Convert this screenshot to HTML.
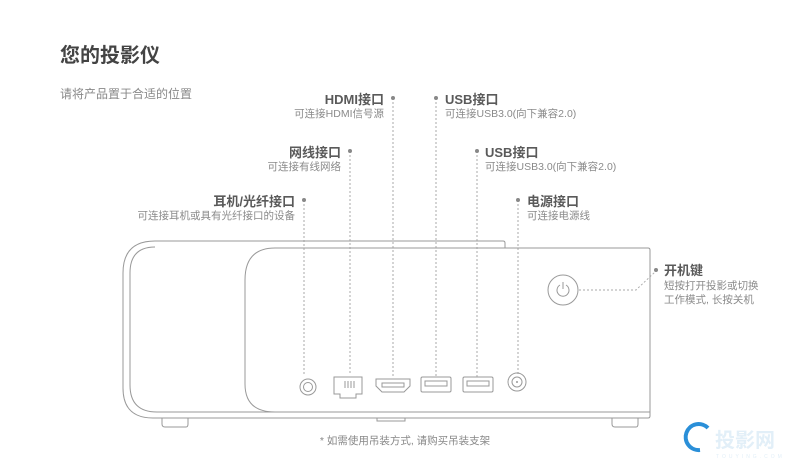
<!DOCTYPE html>
<html><head><meta charset="utf-8"><style>
html,body{margin:0;padding:0;background:#fff;}
svg{display:block;}
text{font-family:"Liberation Sans","Noto Sans CJK SC",sans-serif;}
.t{font-size:13px;font-weight:bold;fill:#5a5a5a;}
.s{font-size:10.5px;fill:#8a8a8a;}
.d{stroke:#aaa;stroke-width:1;stroke-dasharray:2,2;fill:none;}
.l{stroke:#999;stroke-width:1;fill:none;}
</style></head><body>
<svg width="800" height="470" viewBox="0 0 800 470">
<text x="60" y="62" style="font-size:20px;font-weight:bold;fill:#444">您的投影仪</text>
<text x="60" y="98" style="font-size:12px;fill:#888">请将产品置于合适的位置</text>

<text class="t" x="384" y="104" text-anchor="end">HDMI接口</text>
<text class="s" x="384" y="117" text-anchor="end">可连接HDMI信号源</text>
<text class="t" x="445" y="104">USB接口</text>
<text class="s" x="445" y="117">可连接USB3.0(向下兼容2.0)</text>
<text class="t" x="341" y="157" text-anchor="end">网线接口</text>
<text class="s" x="341" y="170" text-anchor="end">可连接有线网络</text>
<text class="t" x="485" y="157">USB接口</text>
<text class="s" x="485" y="170">可连接USB3.0(向下兼容2.0)</text>
<text class="t" x="295" y="206" text-anchor="end">耳机/光纤接口</text>
<text class="s" x="295" y="219" text-anchor="end">可连接耳机或具有光纤接口的设备</text>
<text class="t" x="527" y="206">电源接口</text>
<text class="s" x="527" y="219">可连接电源线</text>
<text class="t" x="664" y="275">开机键</text>
<text class="s" x="664" y="289">短按打开投影或切换</text>
<text class="s" x="664" y="303">工作模式, 长按关机</text>

<g fill="#888">
<circle cx="393" cy="98" r="2"/><circle cx="436" cy="98" r="2"/>
<circle cx="350" cy="151" r="2"/><circle cx="477" cy="151" r="2"/>
<circle cx="304" cy="200" r="2"/><circle cx="518" cy="200" r="2"/>
<circle cx="656" cy="270" r="2"/>
</g>
<path class="d" d="M393 102V377M436 102V377M350 155V375M477 155V377M304 204V376M518 204V374M579 290H636L655 272"/>

<path class="l" d="M505 248V243Q505 241 503 241H155Q123 241 123 273V388Q123 418 153 418H648Q650 418 650 416V250Q650 248 648 248H275"/>
<path class="l" d="M155 247Q130 247 130 273V385Q130 412 157 412H650"/>
<path class="l" d="M275 248Q245 248 245 280V384Q245 412 275 412"/>
<path class="l" d="M162 418V424Q162 427 165 427H186Q188 427 188 424V418M377 418V421H405V418M612 418V424Q612 427 615 427H636Q638 427 638 424V418"/>

<circle class="l" cx="308" cy="387" r="8"/><circle class="l" cx="308" cy="387" r="4.5"/>
<path class="l" d="M334 377H362V394H356V398H340V394H334Z M345 381V388M348 381V388M351 381V388M354 381V388"/>
<path class="l" d="M376 379H410V386L404 392H382L376 386Z"/><rect class="l" x="382" y="383" width="22" height="4"/>
<rect class="l" x="421" y="377" width="30" height="15" rx="1.5"/><rect class="l" x="425" y="381" width="22" height="5"/>
<rect class="l" x="463" y="377" width="30" height="15" rx="1.5"/><rect class="l" x="467" y="381" width="22" height="5"/>
<circle class="l" cx="517" cy="382" r="9"/><circle class="l" cx="517" cy="382" r="5"/><circle cx="517" cy="382" r="1" fill="#999"/>

<circle class="l" cx="563" cy="290" r="15"/>
<path class="l" d="M560 285A6 6 0 1 0 566 285M563 282V289"/>

<text x="405" y="444" text-anchor="middle" style="font-size:10.5px;fill:#888">* 如需使用吊装方式, 请购买吊装支架</text>

<path d="M700 450A13 13 0 1 1 708 428" stroke="#2a8fd8" stroke-width="4" fill="none"/>
<text x="715" y="447" style="font-size:20px;font-weight:bold;fill:#e2eff8">投影网</text>
<text x="716" y="458" style="font-size:5px;fill:#e2eff8;letter-spacing:3px">TOUYING.COM</text>
</svg>
</body></html>
